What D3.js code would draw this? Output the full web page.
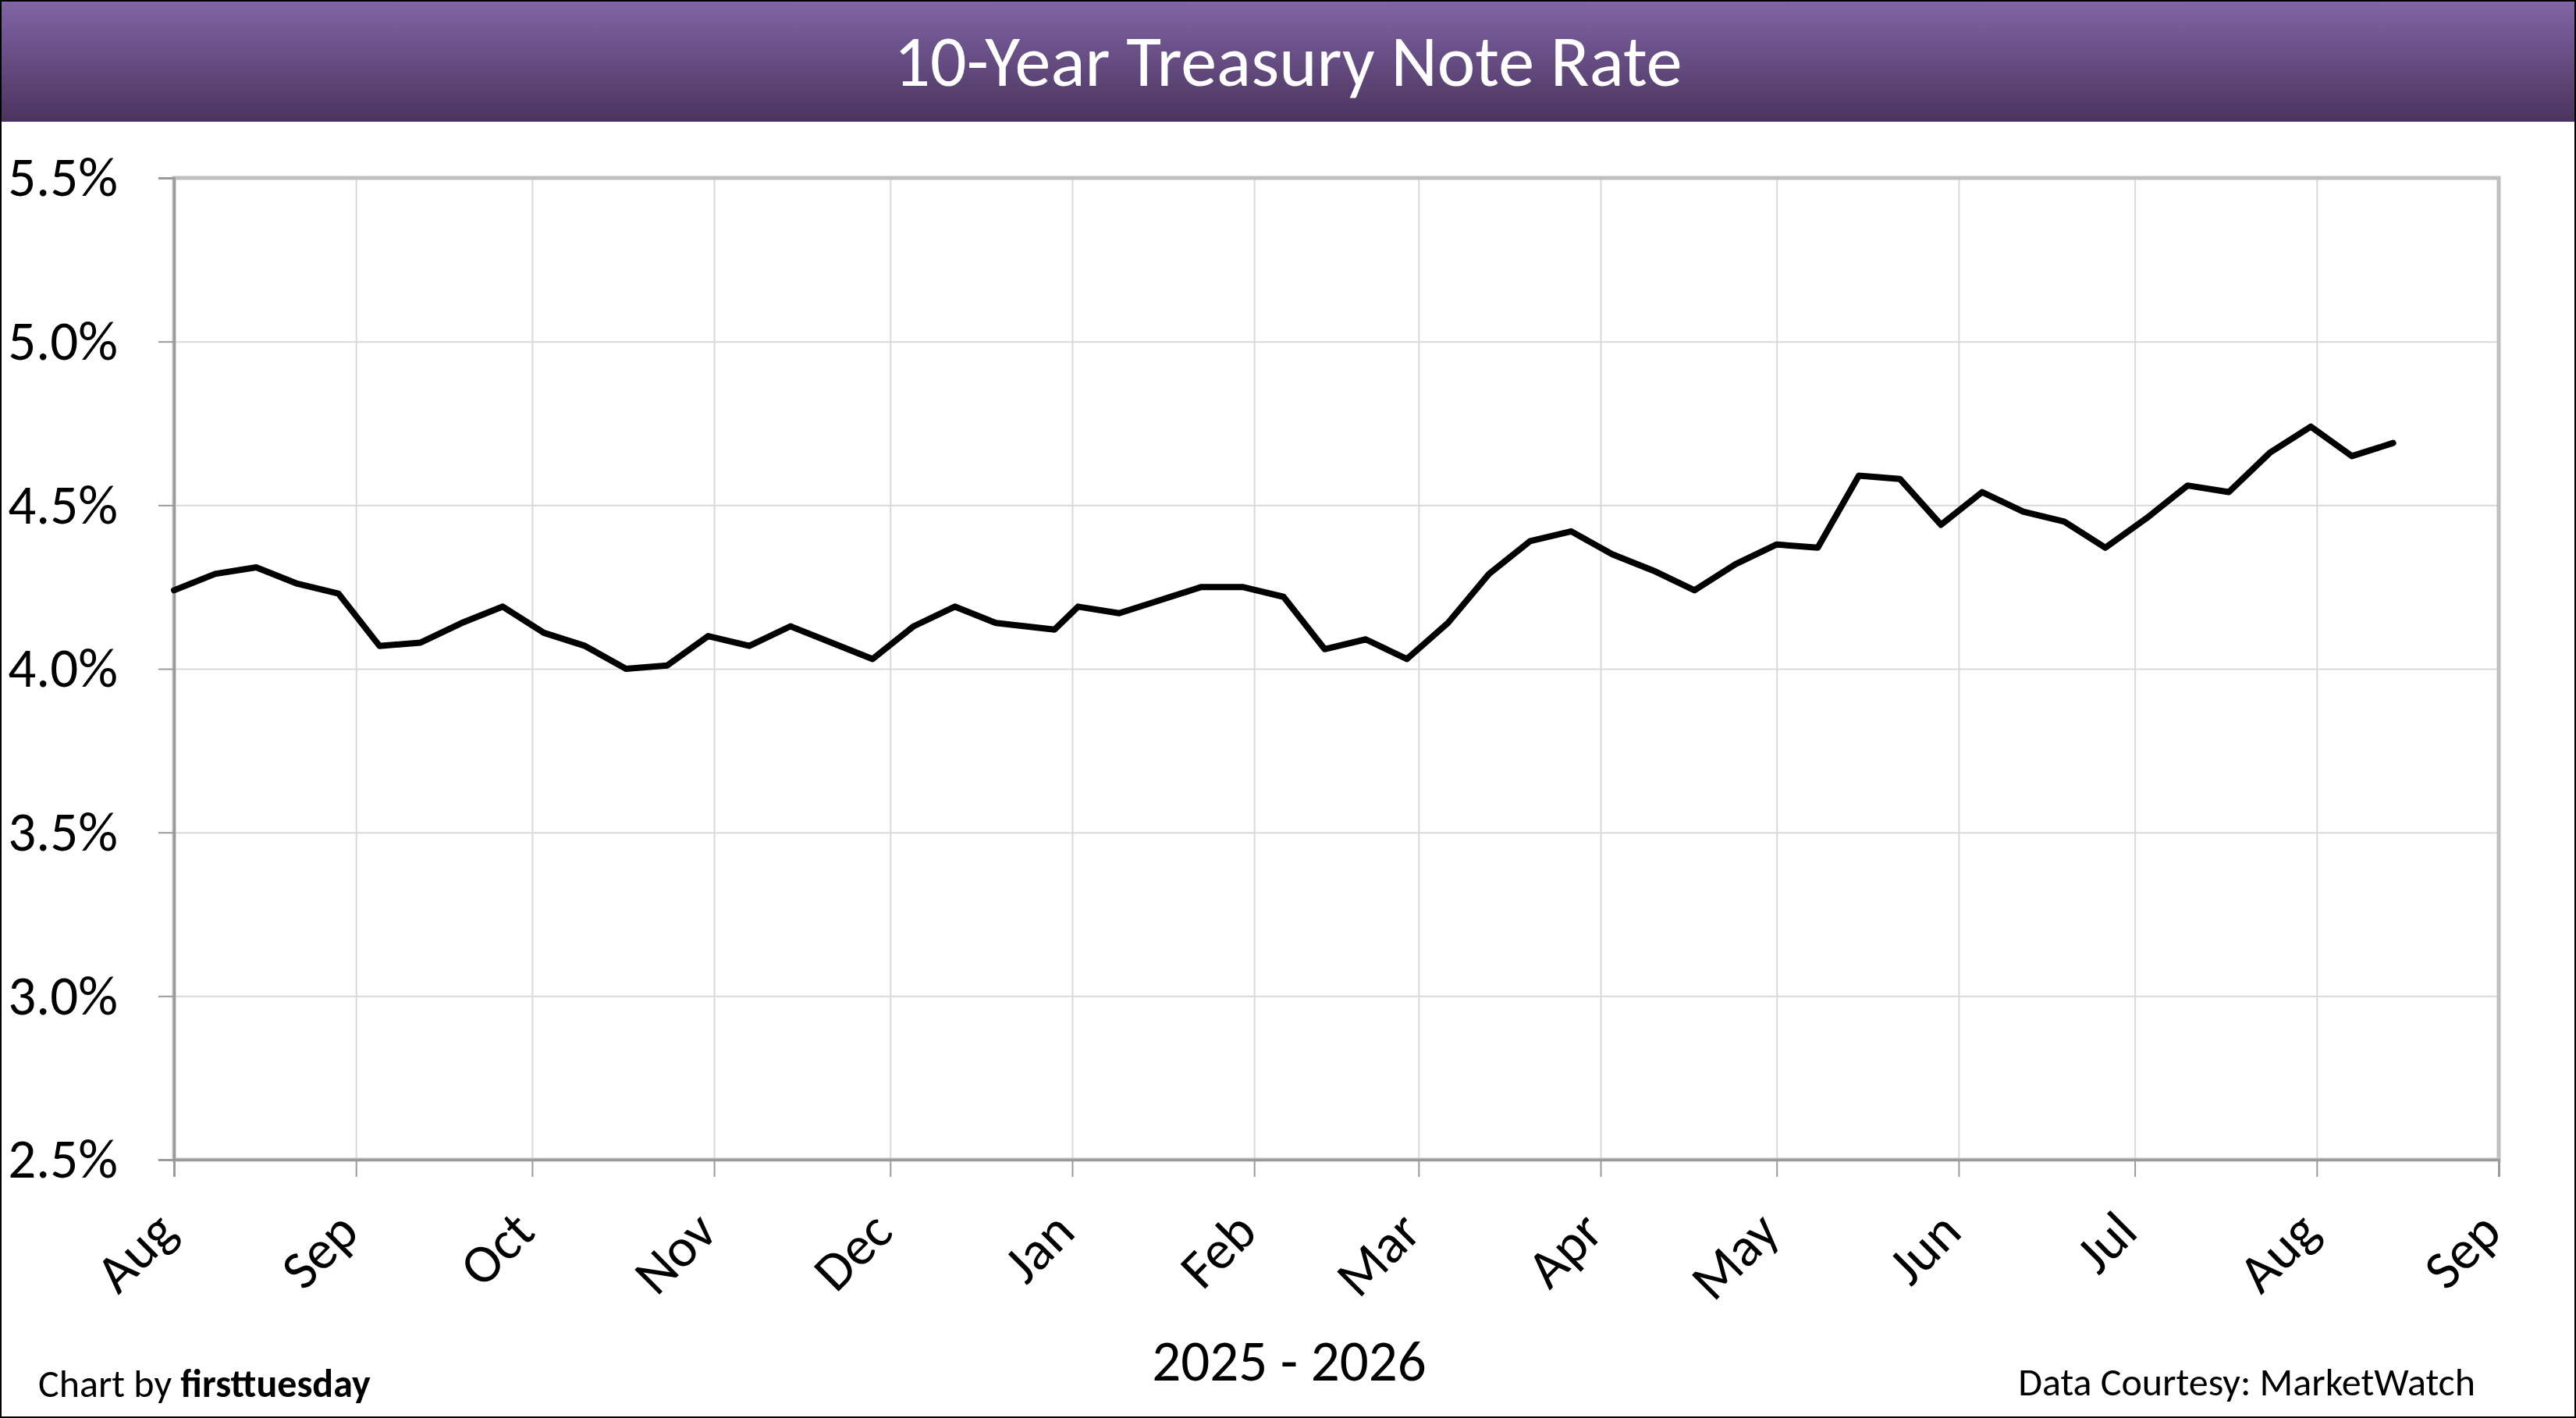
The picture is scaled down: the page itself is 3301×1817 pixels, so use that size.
<!DOCTYPE html>
<html>
<head>
<meta charset="utf-8">
<script src="https://cdn.jsdelivr.net/npm/d3@7"></script>
<style>
body { margin: 0; background: #fff; }
text { font-family: Carlito, Lato, "Open Sans", sans-serif; }
</style>
</head>
<body>
<script>
// weekly 10-year treasury rate
var dates = ["2025-08-01","2025-08-08","2025-08-15","2025-08-22","2025-08-29",
  "2025-09-05","2025-09-12","2025-09-19","2025-09-26",
  "2025-10-03","2025-10-10","2025-10-17","2025-10-24","2025-10-31",
  "2025-11-07","2025-11-14","2025-11-21","2025-11-28",
  "2025-12-05","2025-12-12","2025-12-19","2025-12-29",
  "2026-01-02","2026-01-09","2026-01-16","2026-01-23","2026-01-30",
  "2026-02-06","2026-02-13","2026-02-20","2026-02-27",
  "2026-03-06","2026-03-13","2026-03-20","2026-03-27",
  "2026-04-03","2026-04-10","2026-04-17","2026-04-24",
  "2026-05-01","2026-05-08","2026-05-15","2026-05-22","2026-05-29",
  "2026-06-05","2026-06-12","2026-06-19","2026-06-26",
  "2026-07-03","2026-07-10","2026-07-17","2026-07-24","2026-07-31",
  "2026-08-07","2026-08-14"];
var rates = [4.24,4.29,4.31,4.26,4.23,
  4.07,4.08,4.14,4.19,
  4.11,4.07,4.00,4.01,4.10,
  4.07,4.13,4.08,4.03,
  4.13,4.19,4.14,4.12,
  4.19,4.17,4.21,4.25,4.25,
  4.22,4.06,4.09,4.03,
  4.14,4.29,4.39,4.42,
  4.35,4.30,4.24,4.32,
  4.38,4.37,4.59,4.58,4.44,
  4.54,4.48,4.45,4.37,
  4.46,4.56,4.54,4.66,4.74,
  4.65,4.69];
var yTicks = [2.5, 3.0, 3.5, 4.0, 4.5, 5.0, 5.5];
var monthLabels = ["Aug","Sep","Oct","Nov","Dec","Jan","Feb","Mar","Apr","May","Jun","Jul","Aug","Sep"];
var title = "10-Year Treasury Note Rate";
var xTitle = "2025 - 2026";

var width = 3301, height = 1817;
var plotLeft = 223, plotRight = 3202, plotTop = 228, plotBottom = 1486;

var parse = d3.timeParse("%Y-%m-%d");
var series = dates.map(function(d, i){ return {date: parse(d), rate: rates[i]}; });
var monthTicks = d3.timeMonth.range(parse("2025-08-01"), parse("2026-09-02"));

var x = d3.scaleTime().domain([parse("2025-08-01"), parse("2026-09-01")]).range([plotLeft, plotRight]);
var y = d3.scaleLinear().domain([2.5, 5.5]).range([plotBottom, plotTop]);

var svg = d3.select("body").append("svg")
  .attr("width", width).attr("height", height);

var defs = svg.append("defs");
var grad = defs.append("linearGradient").attr("id", "titlebar")
  .attr("x1", 0).attr("y1", 0).attr("x2", 0).attr("y2", 1);
grad.append("stop").attr("offset", "0%").attr("stop-color", "#8165a6");
grad.append("stop").attr("offset", "100%").attr("stop-color", "#4a345e");

svg.append("rect").attr("width", width).attr("height", height).attr("fill", "#fff");
svg.append("rect").attr("x", 0).attr("y", 0).attr("width", width).attr("height", 156)
  .attr("fill", "url(#titlebar)");
svg.append("text").attr("x", width / 2).attr("y", 110)
  .attr("text-anchor", "middle").attr("fill", "#fff")
  .style("font-size", "92px").text(title);

// gridlines
svg.append("g").attr("transform", "translate(0," + plotBottom + ")")
  .call(d3.axisBottom(x).tickValues(monthTicks).tickSize(-(plotBottom - plotTop)).tickFormat(""))
  .call(function(g){ g.select(".domain").remove(); })
  .selectAll("line").attr("stroke", "#d9d9d9").attr("stroke-width", 2);
svg.append("g").attr("transform", "translate(" + plotLeft + ",0)")
  .call(d3.axisLeft(y).tickValues(yTicks).tickSize(-(plotRight - plotLeft)).tickFormat(""))
  .call(function(g){ g.select(".domain").remove(); })
  .selectAll("line").attr("stroke", "#d9d9d9").attr("stroke-width", 2);

// plot area border
svg.append("rect").attr("x", plotLeft).attr("y", plotTop)
  .attr("width", plotRight - plotLeft).attr("height", plotBottom - plotTop)
  .attr("fill", "none").attr("stroke", "#bfbfbf").attr("stroke-width", 5);

// y axis
var yAxis = svg.append("g").attr("transform", "translate(" + plotLeft + ",0)")
  .call(d3.axisLeft(y).tickValues(yTicks).tickSize(20).tickPadding(52)
    .tickFormat(function(d){ return d.toFixed(1) + "%"; }));
yAxis.select(".domain").attr("stroke", "#9a9a9a").attr("stroke-width", 3);
yAxis.selectAll("line").attr("stroke", "#9a9a9a").attr("stroke-width", 2);
yAxis.selectAll("text").attr("fill", "#000").style("font-size", "71px")
  .attr("font-family", null);

// x axis
var xAxis = svg.append("g").attr("transform", "translate(0," + plotBottom + ")")
  .call(d3.axisBottom(x).tickValues(monthTicks).tickSize(22)
    .tickFormat(function(d, i){ return monthLabels[i]; }));
xAxis.select(".domain").attr("stroke", "#9a9a9a").attr("stroke-width", 3);
xAxis.selectAll("line").attr("stroke", "#9a9a9a").attr("stroke-width", 2);
xAxis.selectAll("text").attr("fill", "#000").style("font-size", "70px")
  .attr("font-family", null)
  .attr("y", 0).attr("dy", 0)
  .attr("text-anchor", "end")
  .attr("transform", "translate(6,96) rotate(-45)");

// rate line
var line = d3.line().x(function(d){ return x(d.date); }).y(function(d){ return y(d.rate); });
svg.append("path").datum(series).attr("d", line)
  .attr("fill", "none").attr("stroke", "#000").attr("stroke-width", 8)
  .attr("stroke-linejoin", "round").attr("stroke-linecap", "round");

svg.append("text").attr("x", 1652).attr("y", 1769)
  .attr("text-anchor", "middle").style("font-size", "73px").text(xTitle);

var credit = svg.append("text").attr("x", 49).attr("y", 1790).style("font-size", "50px");
credit.append("tspan").text("Chart by ");
credit.append("tspan").attr("font-weight", "bold").text("firsttuesday");

svg.append("text").attr("x", 3172).attr("y", 1788).attr("text-anchor", "end")
  .style("font-size", "50px").text("Data Courtesy: MarketWatch");

// outer frame
svg.append("rect").attr("x", 1).attr("y", 1).attr("width", width - 2).attr("height", height - 2)
  .attr("fill", "none").attr("stroke", "#000").attr("stroke-width", 2);
</script>
</body>
</html>
